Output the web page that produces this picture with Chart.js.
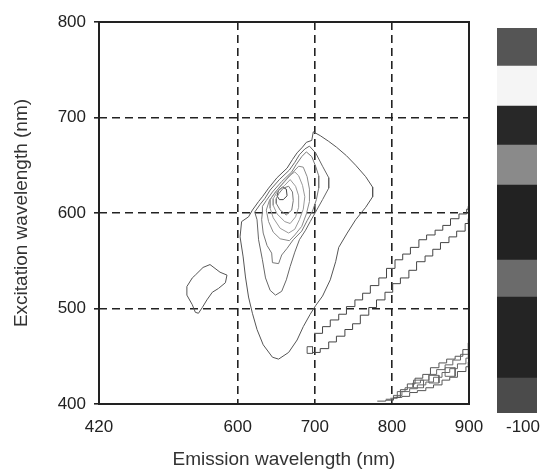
<!DOCTYPE html>
<html>
<head>
<meta charset="utf-8">
<script src="https://cdn.jsdelivr.net/npm/chart.js@4.4.0/dist/chart.umd.min.js"></script>
<style>
  body { margin: 0; background: #fff; }
  #wrap { position: relative; width: 541px; height: 471px; overflow: hidden; }
  #eem { position: absolute; left: 0; top: 0; }
  #bar { position: absolute; left: 497px; top: 28px; }
  #barLabel { position: absolute; left: 506px; top: 417px; font: 17px 'Liberation Sans', Arial, sans-serif; color: #222; white-space: nowrap; }
</style>
</head>
<body>
<div id="wrap">
  <canvas id="eem" width="541" height="471"></canvas>
  <canvas id="bar" width="40" height="385"></canvas>
  <div id="barLabel">-100</div>
</div>
<script>
'use strict';

var xTicks = [420, 600, 700, 800, 900];
var yTicks = [400, 500, 600, 700, 800];

// contour paths, [emission nm, excitation nm]
var contourA = [[698,685],[707,681],[718,675],[728,669],[741,660],[753,650],[766,638],[775,627],[775,617],[766,606],[753,593],[742,579],[731,564],[727,549],[720,530],[710,513],[701,503],[694,494],[685,481],[677,467],[666,454],[653,447],[645,449],[633,462],[625,478],[619,495],[614,512],[610,533],[607,554],[603,575],[605,591],[614,596],[619,603],[627,612],[632,617],[640,626],[651,637],[664,647],[671,656],[677,663],[684,669],[689,674],[696,676],[698,685]];
var contourB = [[649,514],[642,519],[636,532],[632,551],[627,572],[625,593],[622,601],[629,609],[635,615],[642,624],[654,635],[667,645],[674,653],[680,661],[687,667],[693,670],[701,663],[710,649],[718,637],[718,626],[710,614],[701,601],[694,591],[688,582],[680,572],[674,559],[668,544],[663,530],[657,518],[649,514]];
var contourC = [[645,548],[644,558],[638,566],[633,579],[631,593],[632,601],[632,607],[637,613],[645,622],[657,633],[670,643],[676,651],[683,659],[689,664],[696,659],[701,649],[705,639],[705,626],[702,614],[697,602],[690,592],[683,581],[672,572],[664,563],[657,556],[653,547],[645,548]];
var contourD1 = [[637,603],[640,591],[646,580],[655,573],[667,571],[674,577],[683,586],[689,599],[693,612],[693,625],[690,638],[685,648],[679,649],[672,643],[661,633],[649,622],[641,613],[637,603]];
var contourD2 = [[642,605],[646,595],[655,584],[666,579],[674,583],[680,593],[685,604],[687,617],[684,629],[679,639],[674,643],[667,639],[657,630],[648,621],[642,614],[642,605]];
var contourD3 = [[646,608],[651,599],[661,591],[668,589],[675,596],[679,606],[679,618],[675,628],[668,635],[661,629],[651,622],[646,615],[646,608]];
var contourD4 = [[650,610],[655,603],[663,598],[670,603],[672,613],[671,622],[666,628],[659,626],[653,620],[650,615],[650,610]];
var contourPeak = [[651,618],[653,624],[658,627],[663,625],[664,618],[659,614],[654,614],[651,618]];
var island = [[545,535],[555,543],[564,546],[577,538],[586,535],[584,527],[575,521],[567,517],[560,509],[554,501],[549,495],[545,496],[541,504],[534,514],[534,523],[541,532],[545,535]];
var smallLoop = [[690,460],[697,460],[697,453],[690,453],[690,460]];

var scatterUpper = [[699,474],[710,481],[720,488],[731,494],[741,502],[752,509],[762,516],[772,524],[783,532],[793,542],[804,551],[814,557],[824,564],[835,572],[845,577],[856,582],[866,587],[876,594],[887,599],[897,604],[899,607]];
var scatterLower = [[697,454],[707,458],[718,465],[728,471],[739,478],[749,484],[759,493],[770,501],[780,509],[791,517],[801,526],[811,532],[822,540],[832,549],[843,555],[853,562],[863,569],[874,575],[884,581],[895,589],[899,594]];

var cornerLine1 = [[781,403],[792,404],[802,407],[813,408],[823,412],[833,414],[844,417],[854,420],[865,425],[875,428],[885,434],[896,439],[899,444]];
var cornerLine2 = [[792,405],[802,409],[813,413],[823,416],[833,420],[844,423],[854,428],[865,433],[875,437],[885,442],[896,448],[899,451]];
var cornerLine3 = [[798,406],[807,413],[817,417],[827,422],[837,425],[848,431],[858,436],[869,441],[879,446],[889,452],[899,457]];
var cornerLine4 = [[805,407],[811,415],[820,421],[830,427],[840,431],[850,438],[861,443],[871,447],[882,450],[892,457],[899,464]];
var cornerBox1 = [[828,425],[841,425],[841,417],[828,417],[828,425]];
var cornerBox2 = [[848,430],[861,430],[861,422],[848,422],[848,430]];
var cornerBox3 = [[869,438],[882,438],[882,429],[869,429],[869,438]];

// colour bar bands, bottom to top
var colorbarSteps = [35, 81, 37, 75, 40, 39, 40, 38];
var colorbarShades = ['#4b4b4b', '#242424', '#6b6b6b', '#222222', '#8a8a8a', '#282828', '#f5f5f5', '#555555'];

var fontFamily = "'Liberation Sans', Arial, sans-serif";

var path = function (pts, color, stepped) {
  return {
    data: pts.map(function (p) { return {x: p[0], y: p[1]}; }),
    showLine: true,
    borderColor: color,
    borderWidth: 1,
    pointRadius: 0,
    pointHoverRadius: 0,
    fill: false,
    tension: 0,
    stepped: stepped || false
  };
};

var frame = {
  id: 'frame',
  afterDatasetsDraw: function (chart) {
    var a = chart.chartArea;
    var ctx = chart.ctx;
    ctx.save();
    ctx.strokeStyle = '#222';
    ctx.lineWidth = 2;
    ctx.strokeRect(a.left, a.top, a.right - a.left, a.bottom - a.top);
    ctx.restore();
  }
};

var hideEdge = function (edges) {
  return function (c) {
    if (c.tick && edges.indexOf(c.tick.value) !== -1) {
      return 'rgba(0,0,0,0)';
    }
    return '#222';
  };
};

new Chart(document.getElementById('eem'), {
  type: 'scatter',
  data: {
    datasets: [
      path(contourA, '#555'),
      path(contourB, '#666'),
      path(contourC, '#777'),
      path(contourD1, '#8a8a8a'),
      path(contourD2, '#999'),
      path(contourD3, '#999'),
      path(contourD4, '#777'),
      path(contourPeak, '#444'),
      path(island, '#555'),
      path(smallLoop, '#555'),
      path(scatterUpper, '#444', 'before'),
      path(scatterLower, '#444', 'before'),
      path(cornerLine1, '#555', 'before'),
      path(cornerLine2, '#666', 'before'),
      path(cornerLine3, '#666', 'before'),
      path(cornerLine4, '#555', 'before'),
      path(cornerBox1, '#666'),
      path(cornerBox2, '#666'),
      path(cornerBox3, '#666')
    ]
  },
  options: {
    responsive: false,
    animation: false,
    devicePixelRatio: 1,
    layout: { padding: { left: 0, top: 22, right: 72, bottom: 0 } },
    plugins: { legend: { display: false }, tooltip: { enabled: false } },
    scales: {
      x: {
        type: 'linear',
        min: 420,
        max: 900,
        afterBuildTicks: function (scale) {
          scale.ticks = xTicks.map(function (v) { return {value: v}; });
        },
        afterFit: function (scale) { scale.height = 67; },
        grid: { color: hideEdge([420, 900]), lineWidth: 1.6, drawTicks: false },
        border: { display: false, dash: [8, 5] },
        ticks: { autoSkip: false, maxRotation: 0, padding: 13, color: '#222', font: { family: fontFamily, size: 17 } },
        title: { display: true, text: 'Emission wavelength (nm)', color: '#333', padding: { top: 0, bottom: 0 }, font: { family: fontFamily, size: 19 } }
      },
      y: {
        type: 'linear',
        min: 400,
        max: 800,
        afterBuildTicks: function (scale) {
          scale.ticks = yTicks.map(function (v) { return {value: v}; });
        },
        afterFit: function (scale) { scale.width = 99; },
        grid: { color: hideEdge([400, 800]), tickColor: '#222', lineWidth: 1.6, tickLength: 5 },
        border: { display: false, dash: [8, 5] },
        ticks: { padding: 8, color: '#222', font: { family: fontFamily, size: 17 } },
        title: { display: true, text: 'Excitation wavelength (nm)', color: '#333', padding: { top: 10, bottom: 0 }, font: { family: fontFamily, size: 19 } }
      }
    }
  },
  plugins: [frame]
});

new Chart(document.getElementById('bar'), {
  type: 'bar',
  data: {
    labels: [''],
    datasets: colorbarSteps.map(function (v, i) {
      return { data: [v], backgroundColor: colorbarShades[i], borderWidth: 0, barPercentage: 1, categoryPercentage: 1 };
    })
  },
  options: {
    responsive: false,
    animation: false,
    devicePixelRatio: 1,
    layout: { padding: 0 },
    plugins: { legend: { display: false }, tooltip: { enabled: false } },
    scales: {
      x: { stacked: true, display: false },
      y: { stacked: true, display: false, min: 0, max: 385 }
    }
  }
});
</script>
</body>
</html>
